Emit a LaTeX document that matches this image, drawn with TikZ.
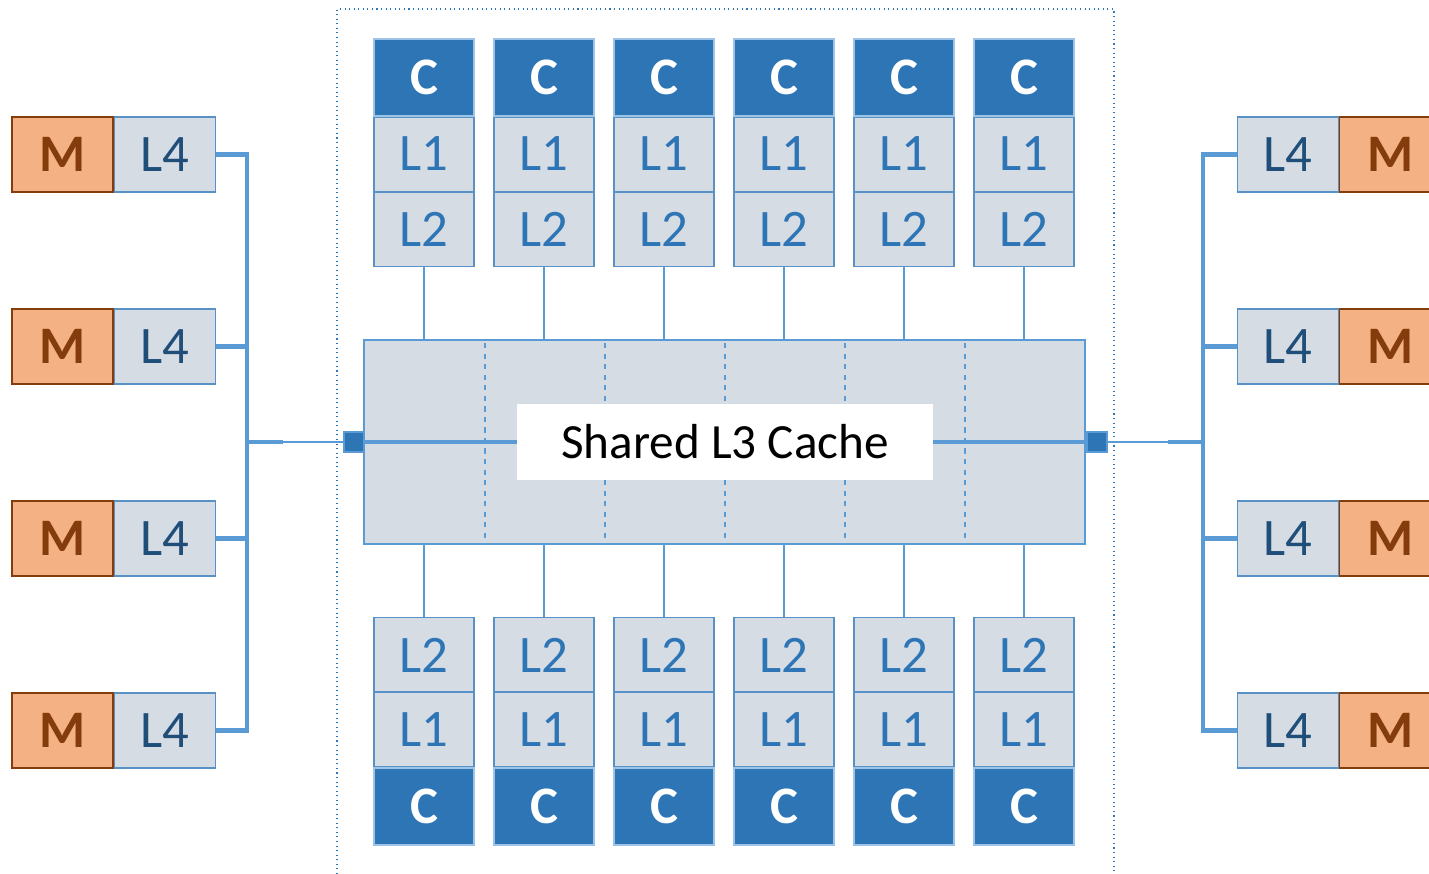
\documentclass[tikz,border=0pt]{standalone}
\usepackage{fontspec}
\setmainfont{Carlito}
\usetikzlibrary{positioning}
\definecolor{coreblue}{HTML}{2E75B6}
\definecolor{cachefill}{HTML}{D6DCE4}
\definecolor{linkblue}{HTML}{5B9BD5}
\definecolor{lfourtext}{HTML}{1F4E79}
\definecolor{memfill}{HTML}{F4B183}
\definecolor{memdraw}{HTML}{843C0C}
\tikzset{
  core/.style={draw=linkblue!60, line width=0.6pt, fill=coreblue, text=white,
    font=\fontsize{30}{30}\selectfont\bfseries, minimum width=2cm, minimum height=1.54cm, inner sep=0pt},
  cache/.style={draw=coreblue!80, line width=0.6pt, fill=cachefill, text=coreblue,
    font=\fontsize{30}{30}\selectfont, minimum width=2cm, minimum height=1.48cm, inner sep=0pt},
  lfour/.style={cache, text=lfourtext, minimum width=2.02cm, minimum height=1.5cm},
  mem/.style={draw=memdraw, line width=0.6pt, fill=memfill, text=memdraw,
    font=\fontsize{30}{30}\selectfont\bfseries, minimum width=2.02cm, minimum height=1.5cm, inner sep=0pt},
  port/.style={draw=linkblue, line width=0.8pt, fill=coreblue, minimum size=0.4cm, inner sep=0pt},
  bus/.style={draw=linkblue, line width=2.8pt},
  wire/.style={draw=linkblue, line width=1.2pt},
}
\begin{document}
\begin{tikzpicture}[x=0.02cm, y=-0.02cm]
        \useasboundingbox (0,0) rectangle (1429,874);
        %
        \draw[coreblue, dotted, line width=0.6pt] (337,874) -- (337,9) -- (1114,9) -- (1114,874);
        %
        \node [cache, minimum width=14.42cm, minimum height=4.08cm, draw=linkblue, line width=1.4pt] (l3) at (724.5,442) {};
        \foreach \xd in {485,605,725,845,965}
          \draw[linkblue, dashed, line width=0.6pt] (\xd,343) -- (\xd,543);
        \node [fill=white, minimum width=8.32cm, minimum height=1.54cm, inner sep=0pt,
          font=\fontsize{28}{28}\selectfont] (l3label) at (725,442) {Shared L3 Cache};
        \path[bus] (l3.west) -- (l3label.west);
        \path[bus] (l3label.east) -- (l3.east);
        %
        \foreach \i in {0,...,5} {
          \node [core] (tc\i) at (424+120*\i,77.5) {C};
          \node [cache, below=0pt of tc\i] (tla\i) {L1};
          \node [cache, below=0pt of tla\i] (tlb\i) {L2};
          \path[wire, line width=1.4pt] (tlb\i) -- (tlb\i |- l3.north);
          \node [core] (bc\i) at (424+120*\i,806.5) {C};
          \node [cache, above=0pt of bc\i] (bla\i) {L1};
          \node [cache, above=0pt of bla\i] (blb\i) {L2};
          \path[wire, line width=1.4pt] (blb\i) -- (blb\i |- l3.south);
        }
        %
        \node [port] (pl) at (354,442) {};
        \node [port] (pr) at (1097,442) {};
        %
        \foreach \r/\yr in {a/154.5,b/346.5,c/538.5,d/730.5} {
          \node [mem] (ml\r) at (62.5,\yr) {M};
          \node [lfour, right=0pt of ml\r] (ll\r) {L4};
          \node [lfour] (lr\r) at (1288,\yr) {L4};
          \node [mem, right=0pt of lr\r] (mr\r) {M};
        }
        %
        \coordinate (lbus) at (247,442);
        \coordinate (lhop) at (283,442);
        \coordinate (rbus) at (1203,442);
        \coordinate (rhop) at (1168,442);
        \path[bus] (lla.east) -| (lbus) |- (lld.east);
        \path[bus] (llb.east) -- (llb.east -| lbus);
        \path[bus] (llc.east) -- (llc.east -| lbus);
        \path[bus] (lbus) -- (lhop);
        \path[wire] (lhop) -- (pl);
        \path[bus] (lra.west) -| (rbus) |- (lrd.west);
        \path[bus] (lrb.west) -- (lrb.west -| rbus);
        \path[bus] (lrc.west) -- (lrc.west -| rbus);
        \path[bus] (rbus) -- (rhop);
        \path[wire] (rhop) -- (pr);
\end{tikzpicture}
\end{document}
